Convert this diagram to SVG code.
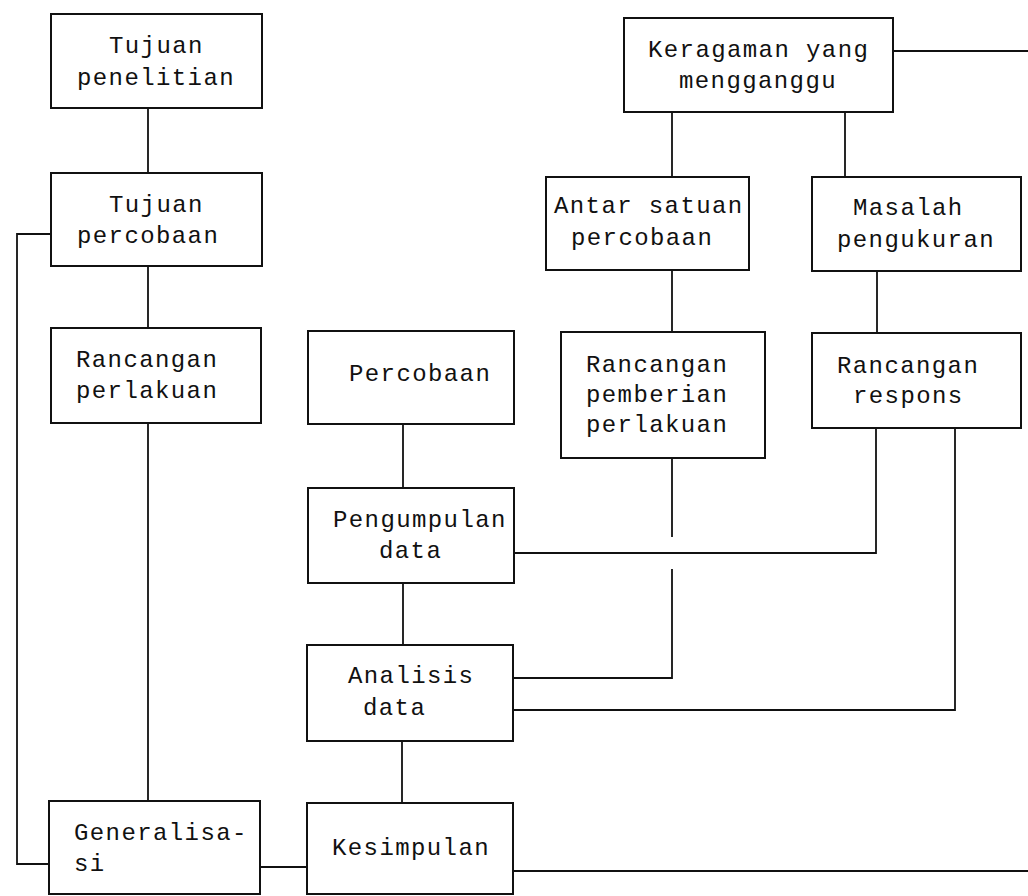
<svg xmlns="http://www.w3.org/2000/svg" width="1028" height="896" viewBox="0 0 1028 896">
<style>
rect{fill:#fff;stroke:#111;stroke-width:2}
.c{fill:none;stroke:#111;stroke-width:1.8}
text{font-family:"Liberation Mono","Courier New",monospace;font-size:24px;letter-spacing:1.4px;fill:#111}
</style>
<rect x="0" y="0" width="1028" height="896" style="stroke:none"/>
<g id="connectors">
<path class="c" d="M148 108V173M148 266V328M148 423V801"/>
<path class="c" d="M51 234H17V864H49"/>
<path class="c" d="M260 867H307"/>
<path class="c" d="M403 424V488M403 583V645M402 741V803"/>
<path class="c" d="M514 553H876V428"/>
<path class="c" d="M672 458V537M672 569V678H513"/>
<path class="c" d="M513 710H955V428"/>
<path class="c" d="M513 871H1028"/>
<path class="c" d="M893 51H1028"/>
<path class="c" d="M672 112V177M845 112V177"/>
<path class="c" d="M672 270V332M877 271V333"/>
</g>
<g id="tujuan-penelitian"><rect x="51" y="14" width="211" height="94"/><text x="109" y="53">Tujuan</text><text x="77" y="85">penelitian</text></g>
<g id="tujuan-percobaan"><rect x="51" y="173" width="211" height="93"/><text x="109" y="212">Tujuan</text><text x="77" y="243">percobaan</text></g>
<g id="rancangan-perlakuan"><rect x="51" y="328" width="210" height="95"/><text x="76" y="367">Rancangan</text><text x="76" y="398">perlakuan</text></g>
<g id="generalisasi"><rect x="49" y="801" width="211" height="93"/><text x="74" y="840">Generalisa-</text><text x="74" y="871">si</text></g>
<g id="kesimpulan"><rect x="307" y="803" width="206" height="91"/><text x="332" y="855">Kesimpulan</text></g>
<g id="analisis-data"><rect x="307" y="645" width="206" height="96"/><text x="348" y="683">Analisis</text><text x="363" y="715">data</text></g>
<g id="percobaan"><rect x="308" y="331" width="206" height="93"/><text x="349" y="381">Percobaan</text></g>
<g id="pengumpulan-data"><rect x="308" y="488" width="206" height="95"/><text x="333" y="527">Pengumpulan</text><text x="379" y="558">data</text></g>
<g id="keragaman"><rect x="624" y="18" width="269" height="94"/><text x="648" y="57">Keragaman yang</text><text x="679" y="88">mengganggu</text></g>
<g id="antar-satuan"><rect x="546" y="177" width="203" height="93"/><text x="554" y="213">Antar satuan</text><text x="571" y="245">percobaan</text></g>
<g id="masalah-pengukuran"><rect x="812" y="177" width="209" height="94"/><text x="853" y="215">Masalah</text><text x="837" y="247">pengukuran</text></g>
<g id="rancangan-pemberian"><rect x="561" y="332" width="204" height="126"/><text x="586" y="372">Rancangan</text><text x="586" y="402">pemberian</text><text x="586" y="432">perlakuan</text></g>
<g id="rancangan-respons"><rect x="812" y="333" width="209" height="95"/><text x="837" y="373">Rancangan</text><text x="853" y="403">respons</text></g>
</svg>
